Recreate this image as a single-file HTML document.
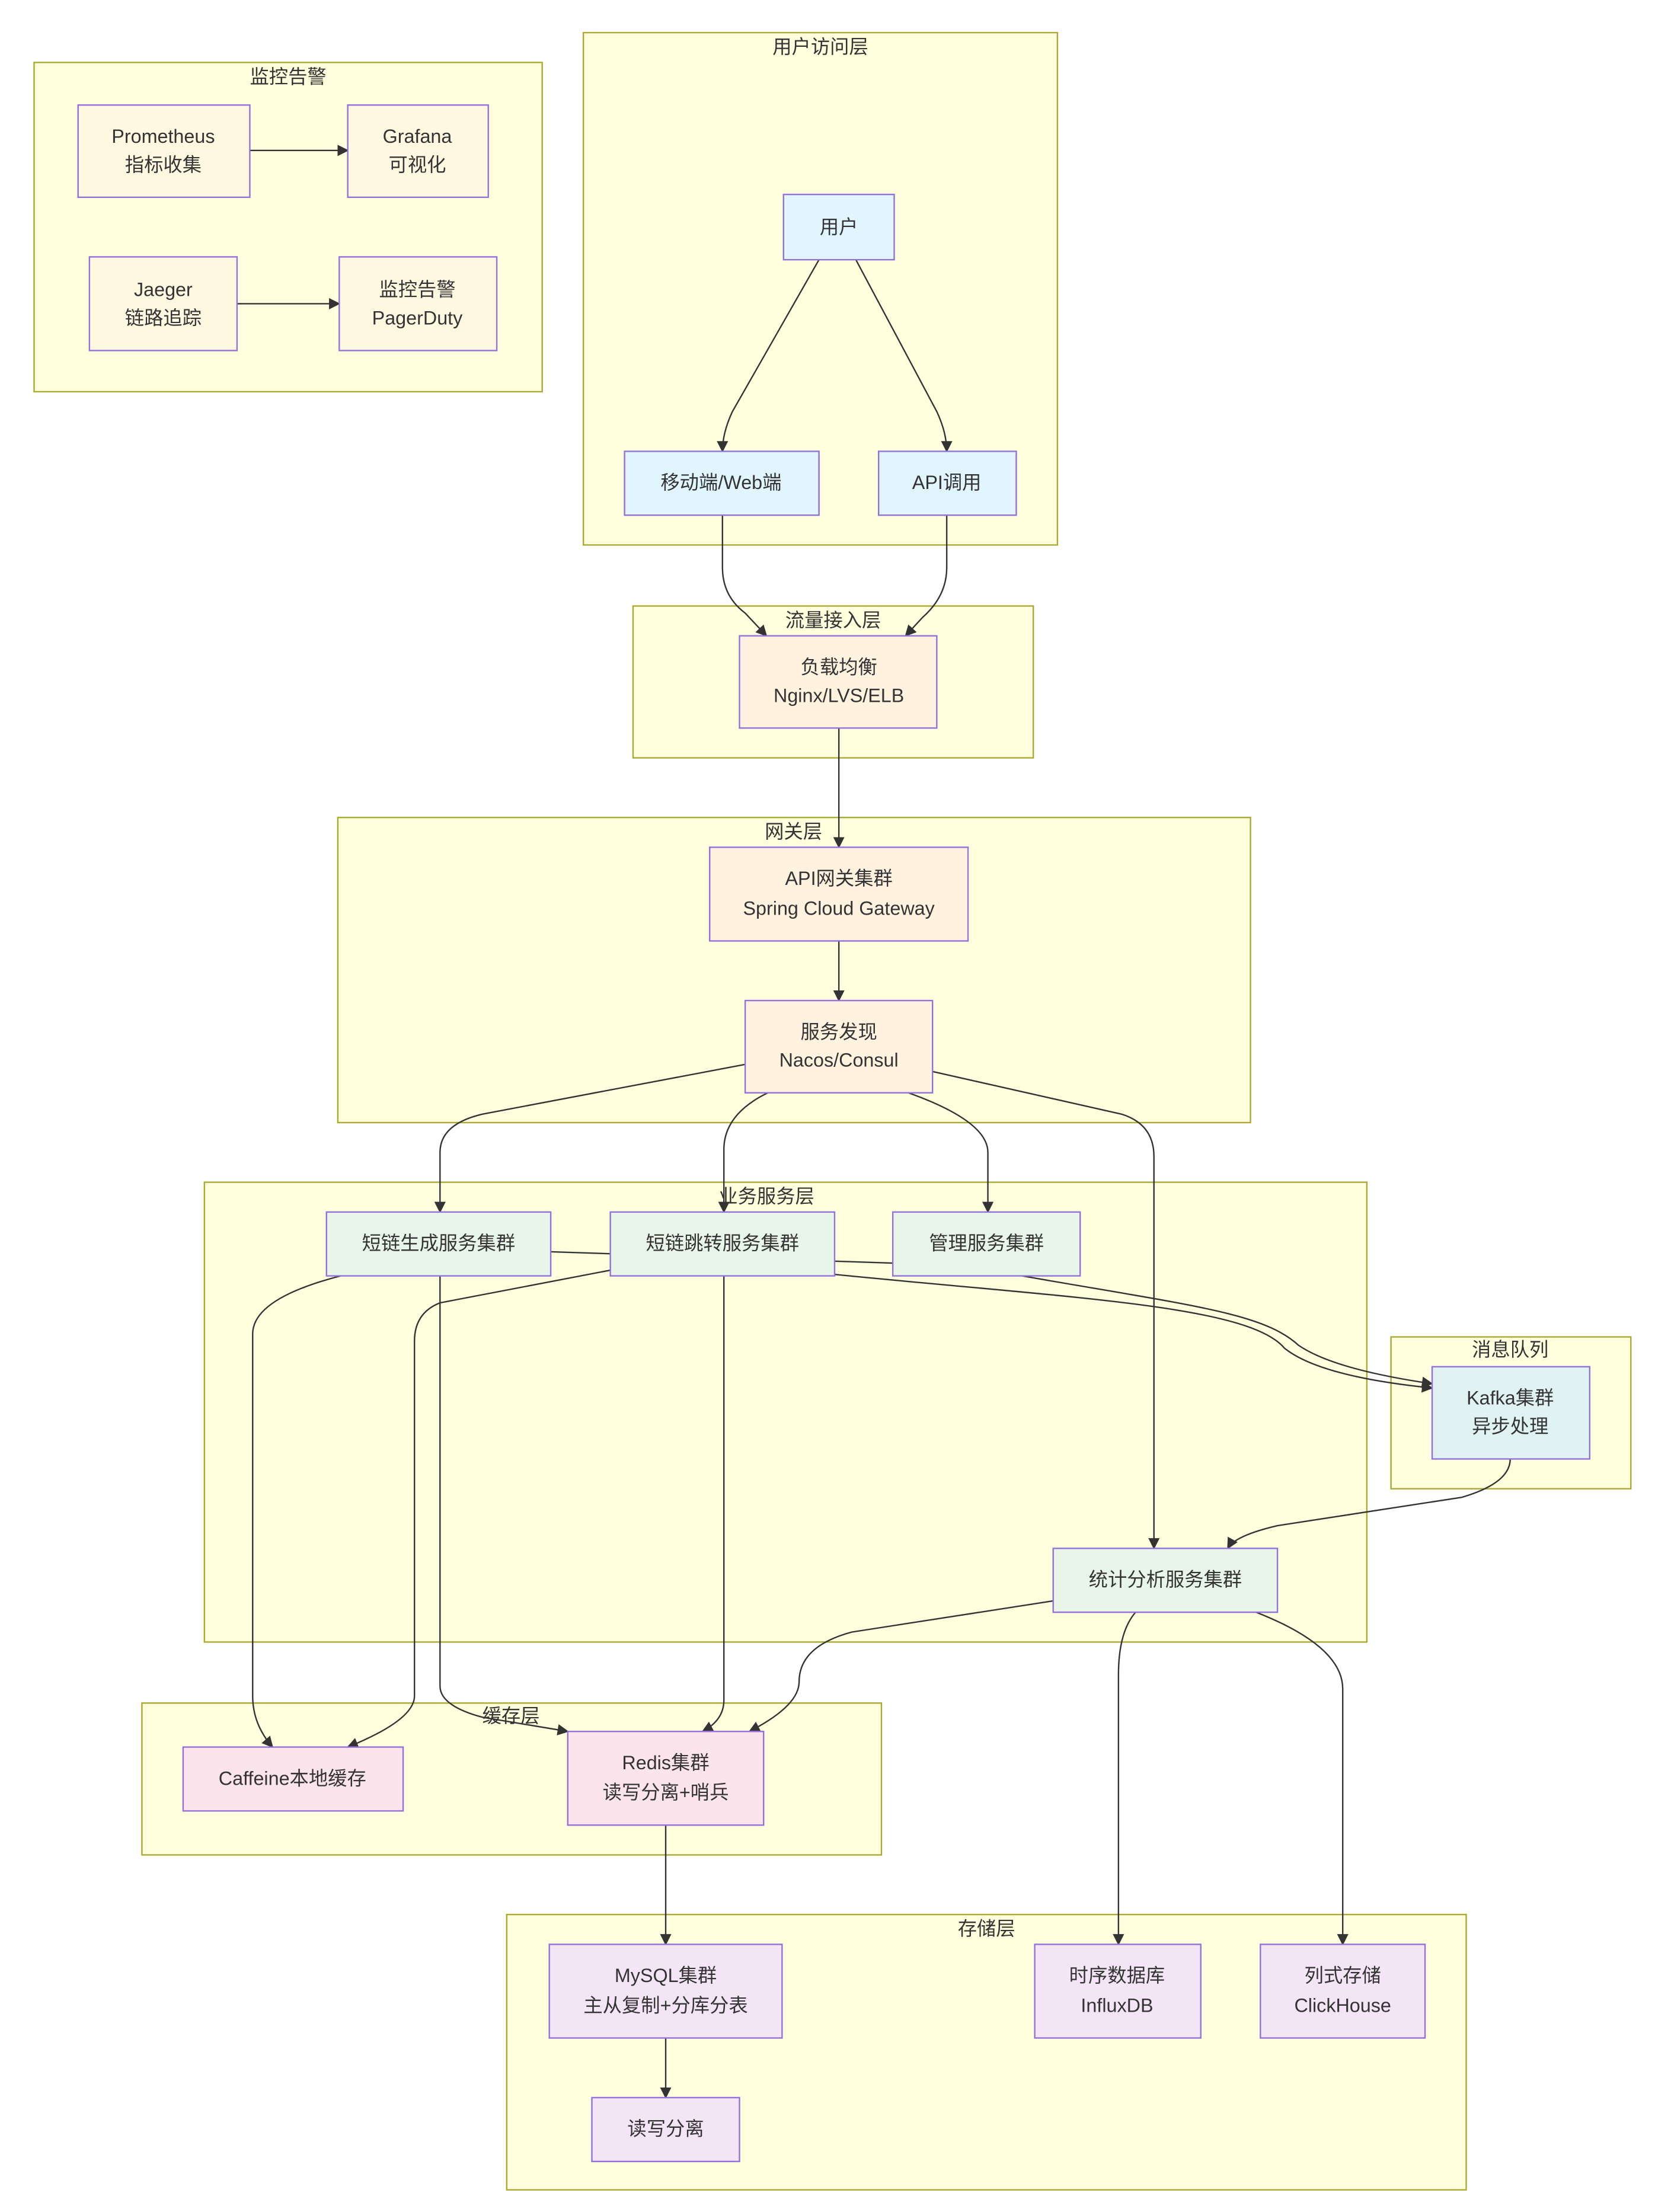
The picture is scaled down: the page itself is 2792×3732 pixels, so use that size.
<!DOCTYPE html>
<html><head><meta charset="utf-8"><style>
html,body{margin:0;padding:0;background:#fff}
svg{display:block}
text{font-family:"Liberation Sans","Noto Sans CJK SC",sans-serif;font-size:13.5px;fill:#333;text-anchor:middle;dominant-baseline:central}
.c{fill:#ffffde;stroke:#aaaa33;stroke-width:1}
.n{stroke:#9370db;stroke-width:1}
.e{fill:none;stroke:#333;stroke-width:1}
</style></head><body>
<svg width="2792" height="3732" viewBox="0 0 1166 1558.6" xmlns="http://www.w3.org/2000/svg">
<defs><marker id="a" viewBox="0 0 10 10" refX="9" refY="5" markerWidth="8" markerHeight="8" orient="auto" markerUnits="userSpaceOnUse"><path d="M0,0 L10,5 L0,10 z" fill="#333"/></marker></defs>
<!-- clusters -->
<rect class="c" x="24" y="44" width="358" height="232"/><text x="203" y="54">监控告警</text>
<rect class="c" x="411" y="23" width="334" height="361"/><text x="578" y="33">用户访问层</text>
<rect class="c" x="446" y="427" width="282" height="107"/><text x="587" y="437">流量接入层</text>
<rect class="c" x="238" y="576" width="643" height="215"/><text x="559" y="586">网关层</text>
<rect class="c" x="144" y="833" width="819" height="324"/><text x="540" y="843">业务服务层</text>
<rect class="c" x="980" y="942" width="169" height="107"/><text x="1064" y="951">消息队列</text>
<rect class="c" x="100" y="1200" width="521" height="107"/><text x="360" y="1209">缓存层</text>
<rect class="c" x="357" y="1349" width="676" height="194"/><text x="695" y="1359">存储层</text>
<!-- edges -->
<g class="e" marker-end="url(#a)">
<path d="M176,106 L245,106"/>
<path d="M167,214 L239,214"/>
<path d="M577,183 L516,290 Q509,305 509,318"/>
<path d="M603,183 L660,290 Q667,305 667,318"/>
<path d="M509,363 L509,400 Q509,420 525,432 L540,448"/>
<path d="M667,363 L667,400 Q667,420 650,435 L638,448"/>
<path d="M591,513 L591,597"/>
<path d="M591,663 L591,705"/>
<path d="M525,750 L340,785 Q310,792 310,812 L310,854"/>
<path d="M541,770 Q510,785 510,810 L510,854"/>
<path d="M640,770 Q696,790 696,812 L696,854"/>
<path d="M657,755 L790,785 Q813,792 813,815 L813,1091"/>
<path d="M388,882 L629,890 L720,899 C840,920 890,925 915,948 Q940,965 1009,975"/>
<path d="M588,898 C760,915 880,920 905,950 Q930,970 1009,978"/>
<path d="M1064,1028 Q1064,1045 1030,1055 L900,1075 Q870,1082 865,1091"/>
<path d="M240,899 Q178,915 178,940 L178,1195 Q178,1215 192,1231"/>
<path d="M430,895 L310,918 Q292,925 292,945 L292,1195 Q292,1212 245,1231"/>
<path d="M310,899 L310,1188 Q310,1202 340,1210 L400,1220"/>
<path d="M510,899 L510,1198 Q510,1212 495,1220"/>
<path d="M742,1128 L600,1150 Q563,1160 563,1185 Q563,1202 528,1220"/>
<path d="M800,1136 Q788,1150 788,1180 L788,1370"/>
<path d="M885,1136 Q946,1160 946,1190 L946,1370"/>
<path d="M469,1286 L469,1370"/>
<path d="M469,1436 L469,1478"/>
</g>
<!-- nodes -->
<g class="n" fill="#fff8e1">
<rect x="55" y="74" width="121" height="65"/><rect x="245" y="74" width="99" height="65"/>
<rect x="63" y="181" width="104" height="66"/><rect x="239" y="181" width="111" height="66"/>
</g>
<text x="115" y="96">Prometheus</text><text x="115" y="116">指标收集</text>
<text x="294" y="96">Grafana</text><text x="294" y="116">可视化</text>
<text x="115" y="204">Jaeger</text><text x="115" y="224">链路追踪</text>
<text x="294" y="204">监控告警</text><text x="294" y="224">PagerDuty</text>
<g class="n" fill="#e1f5fe">
<rect x="552" y="137" width="78" height="46"/><rect x="440" y="318" width="137" height="45"/><rect x="619" y="318" width="97" height="45"/>
</g>
<text x="591" y="160">用户</text><text x="508" y="340">移动端/Web端</text><text x="667" y="340">API调用</text>
<g class="n" fill="#fff3e0">
<rect x="521" y="448" width="139" height="65"/><rect x="500" y="597" width="182" height="66"/><rect x="525" y="705" width="132" height="65"/>
</g>
<text x="591" y="470">负载均衡</text><text x="591" y="490">Nginx/LVS/ELB</text>
<text x="591" y="619">API网关集群</text><text x="591" y="640">Spring Cloud Gateway</text>
<text x="591" y="727">服务发现</text><text x="591" y="747">Nacos/Consul</text>
<g class="n" fill="#e8f5e9">
<rect x="230" y="854" width="158" height="45"/><rect x="430" y="854" width="158" height="45"/><rect x="629" y="854" width="132" height="45"/><rect x="742" y="1091" width="158" height="45"/>
</g>
<text x="309" y="876">短链生成服务集群</text><text x="509" y="876">短链跳转服务集群</text><text x="695" y="876">管理服务集群</text><text x="821" y="1113">统计分析服务集群</text>
<rect class="n" fill="#e0f2f1" x="1009" y="963" width="111" height="65"/>
<text x="1064" y="985">Kafka集群</text><text x="1064" y="1005">异步处理</text>
<g class="n" fill="#fce4ec">
<rect x="129" y="1231" width="155" height="45"/><rect x="400" y="1220" width="138" height="66"/>
</g>
<text x="206" y="1253">Caffeine本地缓存</text><text x="469" y="1242">Redis集群</text><text x="469" y="1263">读写分离+哨兵</text>
<g class="n" fill="#f3e5f5">
<rect x="387" y="1370" width="164" height="66"/><rect x="417" y="1478" width="104" height="45"/><rect x="729" y="1370" width="117" height="66"/><rect x="888" y="1370" width="116" height="66"/>
</g>
<text x="469" y="1392">MySQL集群</text><text x="469" y="1413">主从复制+分库分表</text>
<text x="469" y="1500">读写分离</text>
<text x="787" y="1392">时序数据库</text><text x="787" y="1413">InfluxDB</text>
<text x="946" y="1392">列式存储</text><text x="946" y="1413">ClickHouse</text>
</svg>
</body></html>
